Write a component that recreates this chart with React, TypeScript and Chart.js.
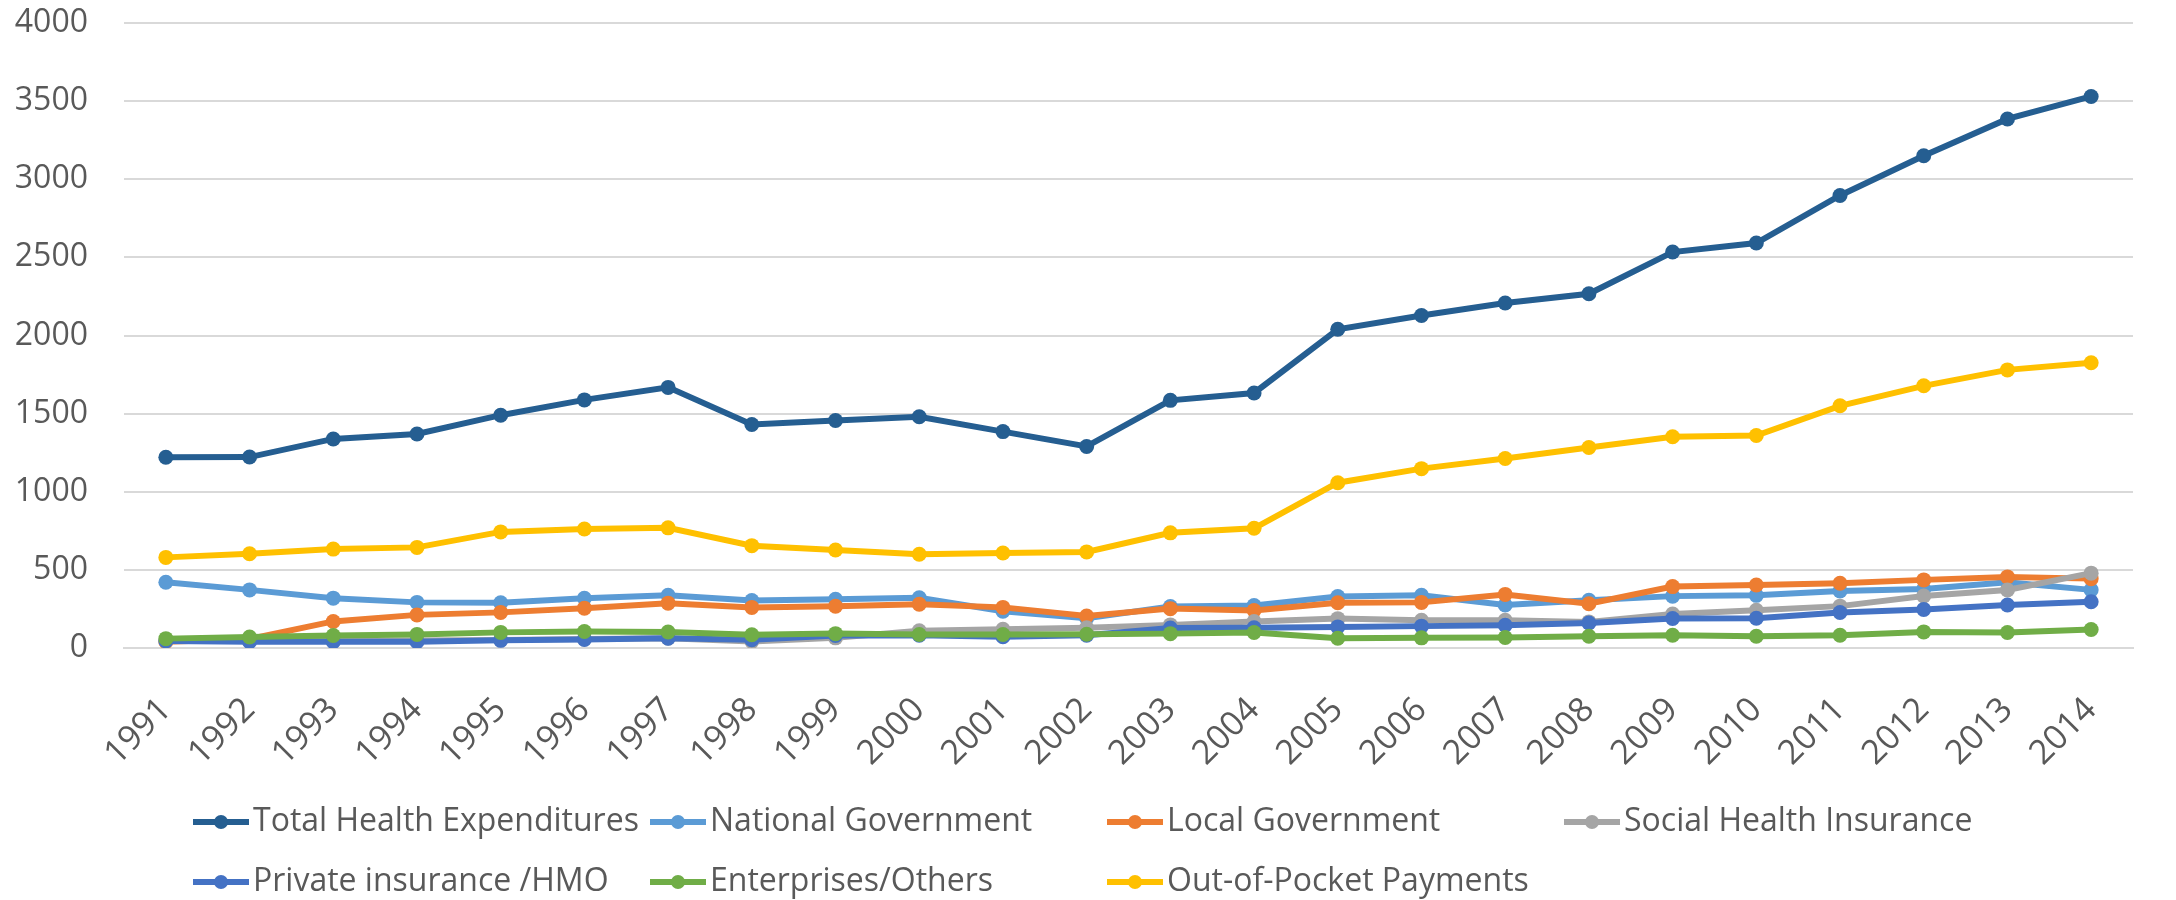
import React, { useEffect, useRef } from "react";
import { Chart, registerables } from "chart.js";

Chart.register(...registerables);

const years = [
  "1991", "1992", "1993", "1994", "1995", "1996", "1997", "1998", "1999", "2000", "2001", "2002",
  "2003", "2004", "2005", "2006", "2007", "2008", "2009", "2010", "2011", "2012", "2013", "2014",
];

const totalHealth = [1221, 1222, 1338, 1370, 1490, 1588, 1668, 1430, 1456, 1480, 1385, 1290, 1585, 1632, 2040, 2128, 2208, 2267, 2534, 2592, 2896, 3150, 3386, 3530];
const nationalGov = [421, 372, 319, 292, 290, 318, 338, 304, 312, 322, 235, 190, 265, 272, 330, 338, 275, 305, 332, 337, 365, 378, 420, 372];
const localGov = [40, 58, 170, 212, 228, 255, 287, 260, 267, 280, 260, 205, 252, 240, 290, 292, 343, 283, 393, 403, 414, 436, 455, 444];
const socialHealth = [45, 45, 45, 48, 52, 58, 62, 42, 65, 110, 120, 130, 148, 170, 188, 178, 178, 167, 217, 242, 268, 333, 371, 479];
const privateIns = [45, 40, 40, 40, 49, 55, 63, 53, 80, 82, 72, 82, 128, 130, 135, 140, 146, 160, 189, 190, 227, 247, 275, 296];
const enterprises = [60, 70, 80, 87, 100, 106, 102, 85, 92, 86, 86, 88, 92, 99, 62, 65, 67, 75, 82, 75, 82, 103, 99, 118];
const outOfPocket = [580, 603, 633, 644, 743, 762, 769, 655, 627, 600, 608, 615, 737, 766, 1058, 1148, 1213, 1283, 1352, 1360, 1550, 1678, 1780, 1826];

const seriesNames = [
  "Total Health Expenditures",
  "National Government",
  "Local Government",
  "Social Health Insurance",
  "Private insurance /HMO",
  "Enterprises/Others",
  "Out-of-Pocket Payments",
];
const seriesValues = [totalHealth, nationalGov, localGov, socialHealth, privateIns, enterprises, outOfPocket];
const seriesColors = ["#255E91", "#5B9BD5", "#ED7D31", "#A5A5A5", "#4472C4", "#70AD47", "#FFC000"];

const yMin = 0;
const yMax = 4000;
const yStep = 500;

const FONT = "'Open Sans', 'DejaVu Sans', sans-serif";
const TEXT_COLOR = "#595959";

const gridLegend = {
  id: "gridLegend",
  afterDraw(chart: any) {
    const ctx = chart.ctx as CanvasRenderingContext2D;
    ctx.save();
    ctx.font = `32px ${FONT}`;
    ctx.textBaseline = "middle";
    ctx.textAlign = "left";
    chart.data.datasets.forEach((ds: any, i: number) => {
      const col = i % 4;
      const row = Math.floor(i / 4);
      const x = 193 + col * 457;
      const y = 822 + row * 60;
      ctx.strokeStyle = ds.borderColor;
      ctx.lineWidth = 6;
      ctx.beginPath();
      ctx.moveTo(x, y);
      ctx.lineTo(x + 56, y);
      ctx.stroke();
      ctx.fillStyle = ds.borderColor;
      ctx.beginPath();
      ctx.arc(x + 28, y, 7, 0, Math.PI * 2);
      ctx.fill();
      ctx.fillStyle = TEXT_COLOR;
      ctx.fillText(ds.label, x + 60, y);
    });
    ctx.restore();
  },
};

export default function App() {
  const canvasRef = useRef<HTMLCanvasElement | null>(null);

  useEffect(() => {
    if (!canvasRef.current) return;
    const chart = new Chart(canvasRef.current, {
      type: "line",
      data: {
        labels: years,
        datasets: seriesNames.map((name, i) => ({
          label: name,
          data: seriesValues[i],
          borderColor: seriesColors[i],
          backgroundColor: seriesColors[i],
          pointBackgroundColor: seriesColors[i],
          pointBorderColor: seriesColors[i],
          pointBorderWidth: 0,
          pointRadius: 7.5,
          borderWidth: 6,
          tension: 0,
          fill: false,
          order: seriesNames.length - i,
        })),
      },
      options: {
        animation: false,
        responsive: false,
        devicePixelRatio: 1,
        layout: { padding: { left: 0, right: 43, top: 23, bottom: 0 } },
        plugins: {
          legend: { display: false },
          tooltip: { enabled: false },
        },
        scales: {
          x: {
            offset: true,
            grid: { display: false, drawTicks: false },
            border: { display: true, color: "#D9D9D9", width: 2 },
            ticks: {
              autoSkip: false,
              minRotation: 45,
              maxRotation: 45,
              padding: 42,
              color: TEXT_COLOR,
              font: { family: FONT, size: 34 },
            },
            afterFit: (scale: any) => {
              scale.height = 252;
              scale.paddingLeft = 0;
              scale.paddingRight = 0;
            },
          },
          y: {
            min: yMin,
            max: yMax,
            grid: { color: "#D9D9D9", lineWidth: 2, drawTicks: false },
            border: { display: false },
            ticks: {
              stepSize: yStep,
              padding: 36,
              color: TEXT_COLOR,
              font: { family: FONT, size: 32 },
              callback: (v: any) => String(v),
            },
            afterFit: (scale: any) => {
              scale.width = 124;
              scale.paddingTop = 0;
              scale.paddingBottom = 0;
            },
          },
        },
      },
      plugins: [gridLegend],
    });
    return () => chart.destroy();
  }, []);

  return (
    <div style={{ position: "fixed", left: 0, top: 0, width: 2176, height: 900, background: "#fff" }}>
      <canvas ref={canvasRef} width={2176} height={900} style={{ width: 2176, height: 900, display: "block" }} />
    </div>
  );
}
